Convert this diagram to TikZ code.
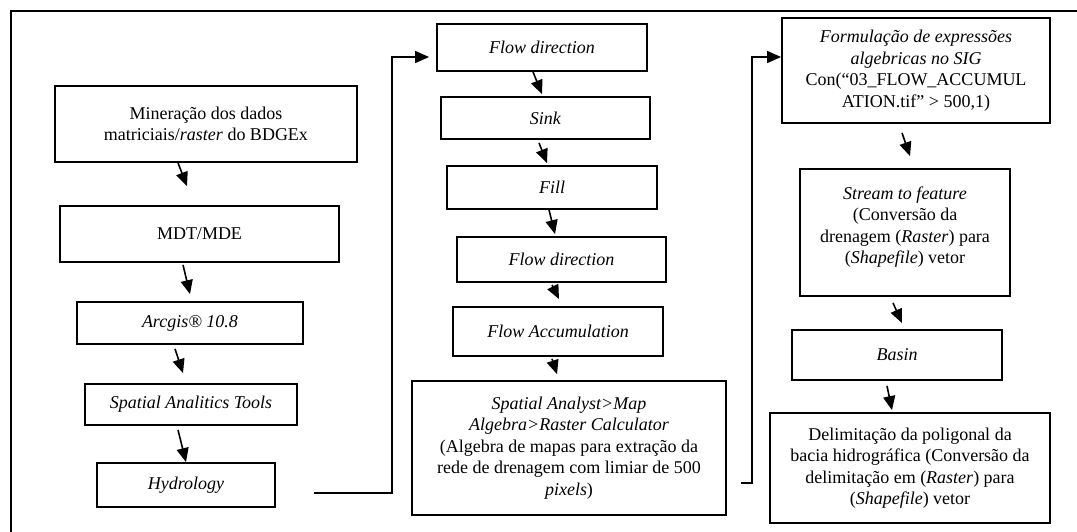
\documentclass[tikz,border=0pt]{standalone}
\usepackage{fontspec}
\setmainfont{Liberation Serif}
\usetikzlibrary{arrows.meta}
\begin{document}
\begin{tikzpicture}[x=1pt,y=-1pt,
	proc/.style={draw,line width=1.8pt,align=center,inner sep=2pt,font=\fontsize{18}{21.5}\selectfont},
	arr/.style={line width=1.6pt,-{Triangle[length=14pt,width=12pt]}}]
	\fill[white,use as bounding box](0,0) rectangle (1077,532);
	\draw[line width=2.2pt](11,532)--(11,11)--(1077,11);
	% coluna 1
	\node[proc,minimum width=302pt,minimum height=76pt](m1) at (206,124){Mineração dos dados\\matriciais/\textit{raster} do BDGEx};
	\node[proc,minimum width=279pt,minimum height=56pt](m2) at (199.5,234){MDT/MDE};
	\node[proc,minimum width=226pt,minimum height=42pt](m3) at (190,323){\textit{Arcgis® 10.8}};
	\node[proc,minimum width=212pt,minimum height=41pt](m4) at (191,404.5){\textit{Spatial Analitics Tools}};
	\node[proc,minimum width=178pt,minimum height=44pt](m5) at (186,485){\textit{Hydrology}};
	% coluna 2
	\node[proc,minimum width=210pt,minimum height=47pt](f1) at (542,47.5){\textit{Flow direction}};
	\node[proc,minimum width=209pt,minimum height=42pt](f2) at (545.5,118){\textit{Sink}};
	\node[proc,minimum width=210pt,minimum height=43pt](f3) at (552,187.5){\textit{Fill}};
	\node[proc,minimum width=209pt,minimum height=45pt](f4) at (561.5,259.5){\textit{Flow direction}};
	\node[proc,minimum width=210pt,minimum height=49pt](f5) at (558,331.5){\textit{Flow Accumulation}};
	\node[proc,minimum width=314pt,minimum height=134pt](f6) at (569,448){\textit{Spatial Analyst>Map}\\\textit{Algebra>Raster Calculator}\\(Algebra de mapas para extração da\\rede de drenagem com limiar de 500\\\textit{pixels})};
	% coluna 3
	\node[proc,minimum width=268pt,minimum height=105pt](r1) at (916,70.5){\textit{Formulação de expressões}\\\textit{algebricas no SIG}\\Con(“03\_FLOW\_ACCUMUL\\ATION.tif” > 500,1)};
	\node[proc,minimum width=210pt,minimum height=127pt](r2) at (905,232.5){\textit{Stream to feature}\\(Conversão da\\drenagem (\textit{Raster}) para\\(\textit{Shapefile}) vetor\\[-7pt]};
	\node[proc,minimum width=210pt,minimum height=50pt](r3) at (897,355){\textit{Basin}};
	\node[proc,minimum width=280pt,minimum height=110pt](r4) at (910,468){Delimitação da poligonal da\\bacia hidrográfica (Conversão da\\delimitação em (\textit{Raster}) para\\(\textit{Shapefile}) vetor};
	% setas
	\draw[arr]([xshift=-28pt]m1.south)--([xshift=-12.5pt,yshift=19pt]m2.north);
	\draw[arr]([xshift=-16.5pt,yshift=-2pt]m2.south)--([yshift=7pt]m3.north);
	\draw[arr]([xshift=-15pt,yshift=-4pt]m3.south)--([xshift=-8pt,yshift=10pt]m4.north);
	\draw[arr]([xshift=-13pt,yshift=-4pt]m4.south)--(m5.north);
	\draw[arr]([xshift=-9pt]f1.south)--([xshift=-3.5pt,yshift=2pt]f2.north);
	\draw[arr]([xshift=-6.5pt,yshift=-3pt]f2.south)--([xshift=-5pt,yshift=2pt]f3.north);
	\draw[arr]([xshift=-3pt]f3.south)--([xshift=-6.5pt,yshift=2pt]f4.north);
	\draw[arr]([xshift=-9.5pt,yshift=-2pt]f4.south)--([xshift=1pt,yshift=7pt]f5.north);
	\draw[arr]([xshift=-6pt,yshift=-2pt]f5.south)--([xshift=-12pt,yshift=6pt]f6.north);
	\draw[arr]([xshift=-14pt,yshift=-9pt]r1.south)--([xshift=5pt,yshift=12pt]r2.north);
	\draw[arr]([xshift=-12pt,yshift=-6pt]r2.south)--([xshift=5pt,yshift=6pt]r3.north);
	\draw[arr]([xshift=-10pt,yshift=-5pt]r3.south)--([xshift=-18pt,yshift=2pt]r4.north);
	\draw[arr]([xshift=38pt,yshift=-8pt]m5.east)-|([xshift=-44pt,yshift=-9.5pt]f1.west)--([xshift=-7pt,yshift=-9.5pt]f1.west);
	\draw[arr]([xshift=14pt,yshift=-35pt]f6.east)-|([xshift=-29pt,yshift=13.5pt]r1.west)--([yshift=13.5pt]r1.west);
\end{tikzpicture}
\end{document}
